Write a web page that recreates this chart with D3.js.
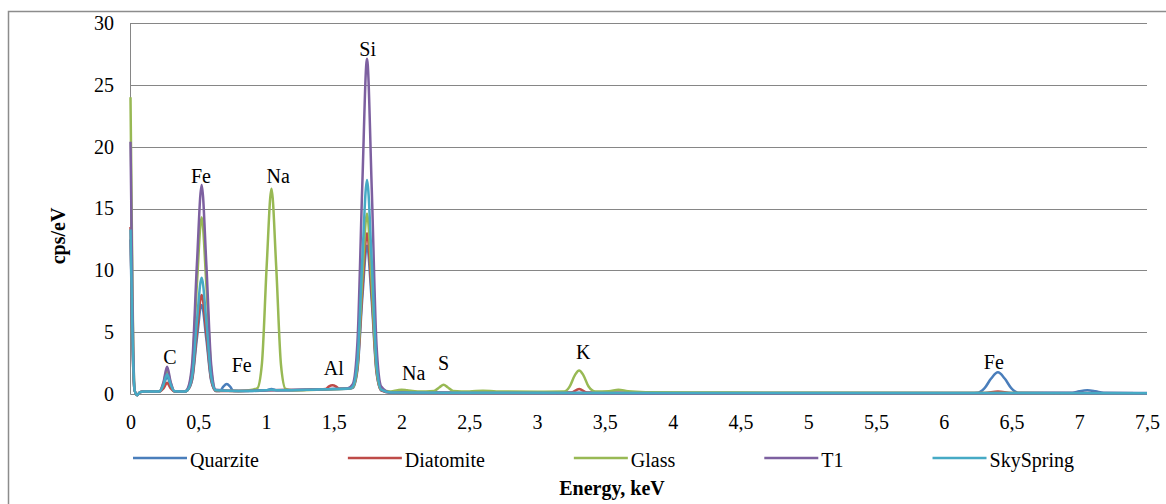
<!DOCTYPE html>
<html lang="en">
<head>
  <meta charset="utf-8" />
  <style>
    body { margin: 0; background: #fff; }
    svg text { font-family: "Liberation Serif", Tinos, "Noto Serif", FreeSerif, "DejaVu Serif", serif; font-size: 20px; fill: #000; }
    .grid line { stroke: #868686; stroke-width: 1px; }
    .spec { fill: none; stroke-width: 2.5px; stroke-linejoin: round; }
  </style>
</head>
<body>
<script src="https://d3js.org/d3.v7.min.js"></script>
<script>
// EDS spectra, [energy keV, cps/eV]
var quarzite = [[0,12.5],[0.015,4],[0.03,0.3],[0.05,-0.1],[0.07,0.15],[0.1,0.2],[0.2,0.2],[0.215,0.2],[0.243,0.65],[0.27,1.4],[0.297,0.65],[0.325,0.2],
  [0.4,0.2],[0.42,0.3],[0.455,1.15],[0.49,4.5],[0.525,7.2],[0.56,4.4],[0.595,1.1],[0.63,0.25],[0.66,0.25],[0.685,0.6],[0.71,0.8],[0.735,0.6],[0.76,0.25],
  [0.9,0.25],[1.0,0.3],[1.04,0.4],[1.08,0.3],[1.3,0.35],[1.5,0.4],[1.62,0.45],[1.64,0.5],[1.675,2.0],[1.71,7.7],[1.745,12],[1.78,7.5],[1.815,1.75],[1.85,0.3],
  [1.92,0.12],[2.5,0.1],[3.5,0.08],[5,0.08],[6.2,0.08],[6.25,0.1],[6.3,0.45],[6.35,1.25],[6.4,1.75],[6.45,1.25],[6.5,0.45],[6.55,0.1],
  [6.95,0.1],[7.0,0.22],[7.06,0.3],[7.12,0.22],[7.18,0.1],[7.5,0.08]];
var diatomite = [[0,13.5],[0.015,4],[0.03,0.3],[0.05,-0.1],[0.07,0.15],[0.1,0.2],[0.2,0.2],[0.215,0.2],[0.243,0.45],[0.27,0.9],[0.297,0.45],[0.325,0.2],
  [0.4,0.2],[0.42,0.3],[0.455,1.25],[0.49,5.0],[0.525,8.0],[0.56,4.9],[0.595,1.2],[0.63,0.25],[0.8,0.25],[1.0,0.3],[1.3,0.35],
  [1.44,0.4],[1.465,0.62],[1.49,0.7],[1.515,0.62],[1.54,0.42],[1.62,0.45],[1.64,0.55],[1.675,2.2],[1.71,8.3],[1.745,13],[1.78,8.1],[1.815,1.9],[1.85,0.3],
  [1.92,0.12],[2.5,0.1],[3.25,0.12],[3.31,0.4],[3.37,0.12],[4,0.08],[6.3,0.08],[6.4,0.2],[6.5,0.08],[7.5,0.06]];
var glass = [[0,24],[0.015,8],[0.03,0.3],[0.05,-0.1],[0.07,0.15],[0.1,0.2],[0.2,0.2],[0.215,0.22],[0.243,0.85],[0.27,1.9],[0.297,0.85],[0.325,0.22],
  [0.4,0.2],[0.42,0.35],[0.455,2.1],[0.49,8.9],[0.525,14.3],[0.56,8.8],[0.595,2.0],[0.63,0.3],[0.8,0.25],[0.9,0.35],[0.935,0.45],[0.97,2.5],[1.005,10.4],[1.04,16.6],
  [1.075,10.3],[1.11,2.4],[1.145,0.4],[1.2,0.3],[1.4,0.35],[1.62,0.45],[1.64,0.55],[1.675,2.4],[1.71,9.3],[1.745,14.6],[1.78,9.0],[1.815,2.1],[1.85,0.35],
  [1.92,0.2],[1.97,0.3],[2.0,0.35],[2.04,0.3],[2.12,0.2],[2.24,0.25],[2.28,0.55],[2.31,0.75],[2.34,0.55],[2.38,0.25],[2.5,0.2],[2.6,0.27],[2.7,0.2],[3.0,0.18],
  [3.2,0.2],[3.24,0.6],[3.28,1.55],[3.31,1.9],[3.34,1.55],[3.38,0.6],[3.43,0.2],[3.53,0.22],[3.6,0.35],[3.67,0.22],[3.8,0.15],[4.2,0.12],[5,0.1],[6,0.08],[7.5,0.06]];
var t1 = [[0,20.4],[0.015,7],[0.03,0.3],[0.05,-0.1],[0.07,0.15],[0.1,0.2],[0.2,0.2],[0.215,0.22],[0.243,0.95],[0.27,2.2],[0.297,0.95],[0.325,0.22],
  [0.4,0.2],[0.42,0.4],[0.455,2.5],[0.49,10.5],[0.525,16.9],[0.56,10.4],[0.595,2.4],[0.63,0.35],[0.8,0.25],[1.0,0.3],[1.3,0.35],[1.6,0.45],
  [1.64,0.8],[1.675,4.3],[1.71,16.8],[1.745,27.1],[1.78,16.6],[1.815,4.0],[1.85,0.6],[1.92,0.1],[2.5,0.08],[4,0.06],[7.5,0.05]];
var skySpring = [[0,13.3],[0.015,4.5],[0.03,0.3],[0.05,-0.1],[0.07,0.15],[0.1,0.2],[0.2,0.2],[0.215,0.22],[0.243,0.75],[0.27,1.6],[0.297,0.75],[0.325,0.22],
  [0.4,0.2],[0.42,0.3],[0.455,1.45],[0.49,5.9],[0.525,9.4],[0.56,5.8],[0.595,1.4],[0.63,0.3],[0.8,0.25],[1.0,0.3],[1.04,0.35],[1.08,0.3],[1.3,0.35],[1.62,0.45],
  [1.64,0.6],[1.675,2.75],[1.71,10.8],[1.745,17.3],[1.78,10.7],[1.815,2.5],[1.85,0.35],[1.92,0.12],[2.5,0.1],[4,0.08],[7.5,0.07]];

var seriesNames = ["Quarzite", "Diatomite", "Glass", "T1", "SkySpring"];
var seriesData = [quarzite, diatomite, glass, t1, skySpring];
var seriesColors = ["#4a7ebb", "#be4b48", "#98b954", "#7d60a0", "#46aac5"];

var xTicks = [0, 0.5, 1, 1.5, 2, 2.5, 3, 3.5, 4, 4.5, 5, 5.5, 6, 6.5, 7, 7.5];
var yTicks = [0, 5, 10, 15, 20, 25, 30];

// peak annotations: element, energy, height of label
var peakNames  = ["C", "Fe", "Fe", "Na", "Al", "Si", "Na", "S", "K", "Fe"];
var peakEnergy = [0.29, 0.52, 0.82, 1.09, 1.5, 1.75, 2.09, 2.31, 3.34, 6.37];
var peakLevel  = [3.0, 17.6, 2.35, 17.6, 2.1, 27.9, 1.7, 2.5, 3.4, 2.55];

var W = 1166, H = 504;
var svg = d3.select("body").append("svg")
  .attr("width", W)
  .attr("height", H);

// outer chart frame (runs off the right and bottom edges)
svg.append("rect")
  .attr("x", 8.5).attr("y", 11.5)
  .attr("width", 1170).attr("height", 510)
  .attr("fill", "none").attr("stroke", "#8c8c8c").attr("stroke-width", 1.5);

var x = d3.scaleLinear().domain([0, 7.5]).range([130.5, 1147]);
var y = d3.scaleLinear().domain([0, 30]).range([394, 23]);

var grid = svg.append("g").attr("class", "grid");
grid.selectAll("line")
  .data(yTicks)
  .enter().append("line")
    .attr("x1", x(0)).attr("x2", x(7.5))
    .attr("y1", function(d){ return Math.round(y(d)) + 0.5; })
    .attr("y2", function(d){ return Math.round(y(d)) + 0.5; });
grid.append("line")
  .attr("x1", x(0)).attr("x2", x(0))
  .attr("y1", y(30)).attr("y2", y(0) + 0.5);

// axes, Excel-like: labels only
var xAxis = svg.append("g").attr("transform", "translate(0," + 394 + ")")
  .call(d3.axisBottom(x).tickValues(xTicks).tickSize(0).tickPadding(21)
    .tickFormat(function(d){ return String(d).replace(".", ","); }));
var yAxis = svg.append("g").attr("transform", "translate(" + 125 + ",0)")
  .call(d3.axisLeft(y).tickValues(yTicks).tickSize(0).tickPadding(11));
[xAxis, yAxis].forEach(function(a){
  a.select(".domain").remove();
  a.attr("font-family", null).attr("font-size", null);
});

var line = d3.line()
  .x(function(d){ return x(d[0]); })
  .y(function(d){ return y(d[1]); })
  .curve(d3.curveMonotoneX);

svg.append("g").selectAll("path")
  .data(seriesData)
  .enter().append("path")
    .attr("class", "spec")
    .attr("stroke", function(d, i){ return seriesColors[i]; })
    .attr("d", line);

svg.append("g").selectAll("text")
  .data(peakNames)
  .enter().append("text")
    .attr("x", function(d, i){ return x(peakEnergy[i]); })
    .attr("y", function(d, i){ return y(peakLevel[i]); })
    .attr("text-anchor", "middle")
    .attr("dominant-baseline", "central")
    .text(function(d){ return d; });

// legend, laid out left to right
var legend = svg.append("g").attr("transform", "translate(0,458)");
var lx = 133;
seriesNames.forEach(function(name, i){
  legend.append("line")
    .attr("x1", lx).attr("x2", lx + 54)
    .attr("stroke", seriesColors[i]).attr("stroke-width", 2.5);
  var t = legend.append("text")
    .attr("x", lx + 57).attr("y", 2)
    .attr("dominant-baseline", "central")
    .text(name);
  lx += 57 + t.node().getComputedTextLength() + 89;
});

svg.append("text")
  .attr("x", 612).attr("y", 488)
  .attr("text-anchor", "middle").attr("dominant-baseline", "central")
  .style("font-weight", "bold")
  .text("Energy, keV");

svg.append("text")
  .attr("transform", "translate(58,236) rotate(-90)")
  .attr("text-anchor", "middle").attr("dominant-baseline", "central")
  .style("font-weight", "bold")
  .text("cps/eV");
</script>
</body>
</html>
